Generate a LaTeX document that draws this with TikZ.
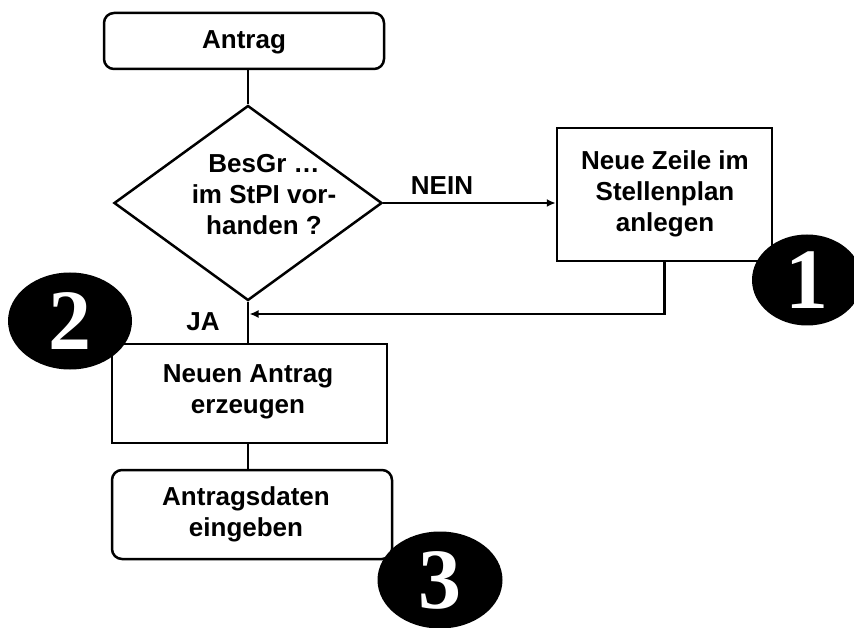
\documentclass[tikz,border=0pt]{standalone}
\usepackage{fontspec}
\setmainfont{Liberation Sans}
\newfontfamily\digitfont{Liberation Serif}
\usetikzlibrary{shapes.geometric,arrows.meta}
\tikzset{
  lbl/.style={font=\fontsize{26}{31}\selectfont\bfseries, align=center, inner sep=0pt},
  boxr/.style={draw, line width=2.5pt, rounded corners=10pt, inner sep=0pt},
  boxs/.style={draw, line width=2.5pt, inner sep=0pt},
  dia/.style={draw, line width=2.5pt, diamond, inner sep=0pt},
  conn/.style={line width=2.5pt},
  arr/.style={line width=2.5pt, -{Latex[length=9pt,width=8pt]}},
  badge/.style={ellipse, fill=black, inner sep=0pt, text=white,
    font=\digitfont\bfseries\fontsize{86}{86}\selectfont}
}
\begin{document}
\begin{tikzpicture}[x=1pt,y=-1pt]
\useasboundingbox (0,0) rectangle (854,628);
% boxes
\node[boxr, minimum width=280pt, minimum height=56pt] (antrag) at (244,41) {};
\node[lbl] (tantrag) at (244,42) {Antrag};
\node[dia, minimum width=268pt, minimum height=195pt] (dec) at (248,203) {};
\node[lbl] (tdec) at (264,195) {BesGr …\\im StPI vor-\\handen ?};
\node[boxs, minimum width=215pt, minimum height=133pt] (neu) at (664.5,194.5) {};
\node[lbl] (tneu) at (665,194) {Neue Zeile im\\Stellenplan\\anlegen};
\node[boxs, minimum width=275pt, minimum height=99pt] (erz) at (249.5,393.5) {};
\node[lbl] (terz) at (248,392) {Neuen Antrag\\erzeugen};
\node[boxr, minimum width=280pt, minimum height=89pt] (ein) at (252,514.5) {};
\node[lbl] (tein) at (246,514) {Antragsdaten\\eingeben};
% connectors
\draw[conn] (dec.north |- antrag.south) -- (dec.north);
\draw[arr] (dec.east) -- (neu.west |- dec.east);
\node[lbl] (nein) at (442,186) {NEIN};
\coordinate (join) at (249.5,314);
\draw[arr] (neu.south) |- (join);
\draw[conn] (dec.south) -- (dec.south |- erz.north);
\node[lbl] (ja) at (203,322) {JA};
\draw[conn] (dec.south |- erz.south) -- (dec.south |- ein.north);
% badges
\node[badge, minimum width=110pt, minimum height=91pt] (b1) at (807,280) {1};
\node[badge, minimum width=124pt, minimum height=97pt] (b2) at (70,321) {2};
\node[badge, minimum width=125pt, minimum height=97pt] (b3) at (440,580) {3};
\end{tikzpicture}
\end{document}
